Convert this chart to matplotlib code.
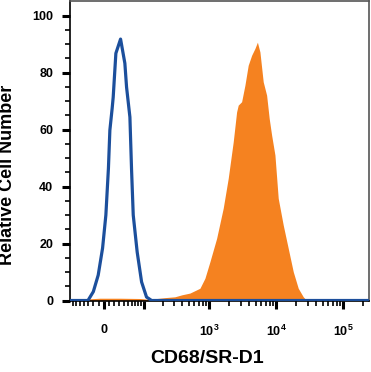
import numpy as np
import matplotlib.pyplot as plt
from matplotlib.ticker import FixedLocator, NullFormatter

plt.rcParams['font.family'] = ['Liberation Sans', 'DejaVu Sans']
plt.rcParams['font.weight'] = 'bold'
plt.rcParams['mathtext.fontset'] = 'custom'
plt.rcParams['mathtext.bf'] = 'Liberation Sans:bold'
plt.rcParams['mathtext.rm'] = 'Liberation Sans:bold'
plt.rcParams['mathtext.default'] = 'bf'

# isotype control (blue outline), intensity vs relative cell number
ctrl_x = [-78, -31, -20, -10.6, -2.4, 3.7, 8.5, 11.2, 15.6, 17.6, 22.9, 32.7,
          42.4, 46.5, 55, 59.5, 64.2, 76.2, 91.3, 110.7, 134, 244000]
ctrl_y = [0, 0, 3.1, 8.9, 18.4, 30, 46.5, 59.8, 67.5, 71.4, 86.8, 91.8,
          83.3, 74.9, 64.4, 45.8, 30, 17, 6.5, 1.2, 0, 0]

# CD68/SR-D1 stained (orange filled)
stain_x = [-37.8, -27, -7.4, 31.2, 85.6, 125, 163, 216, 307, 393, 517, 731,
           868, 1031, 1298, 1629, 1935, 2298, 2581, 2728, 3067, 3435, 3845,
           4325, 4844, 5276, 5751, 6442, 7241, 7916, 8597, 9634, 10789,
           12814, 15223, 18085, 21460, 25488, 28620]
stain_y = [0, 0.6, 0.8, 0.8, 0.7, 0.4, 0.7, 1.0, 1.3, 2.0, 2.6, 4.3,
           7.8, 13.6, 21.8, 32.4, 42.9, 55.7, 66.2, 68.6, 69.8, 75.6, 82.6,
           86.1, 88.5, 90.7, 87.3, 76.8, 72.1, 63.9, 58.1, 51.1, 35.9,
           26.5, 18.3, 10.1, 4.3, 1.3, 0]

x_major = [0, 100, 1000, 10000, 100000]
x_major_labels = ['0', '', '$10^{3}$', '$10^{4}$', '$10^{5}$']
y_major = [0, 20, 40, 60, 80, 100]

W = 54.0
LN10 = np.log(10)


def fwd(v):
    return np.arcsinh(np.asarray(v, dtype=float) / W) / LN10


def inv(v):
    return W * np.sinh(np.asarray(v, dtype=float) * LN10)


fig = plt.figure(figsize=(3.71, 3.72), dpi=100)
ax = fig.add_axes([0.1887, 0.1922, 0.8059, 0.8038])
ax.set_xscale('function', functions=(fwd, inv))

ax.fill_between(stain_x, stain_y, 0, color='#f58220', lw=0, zorder=2)
ax.plot(ctrl_x, ctrl_y, color='#1c4f9c', lw=2.3, zorder=3,
        solid_joinstyle='round')

ax.set_xlim(-78, 244000)
ax.set_ylim(0, 105)

minor = [-v for v in range(10, 100, 10)] + list(range(10, 100, 10))
for dec in (100, 1000, 10000, 100000):
    minor += [dec * k for k in range(2, 10)]
ax.xaxis.set_major_locator(FixedLocator(x_major))
ax.xaxis.set_ticklabels(x_major_labels)
ax.xaxis.set_minor_locator(FixedLocator(minor))
ax.xaxis.set_minor_formatter(NullFormatter())

ax.yaxis.set_major_locator(FixedLocator(y_major))
ax.yaxis.set_minor_locator(FixedLocator(np.arange(5, 105, 5)))

ax.tick_params(which='major', direction='out', length=6, width=2.2,
               labelsize=9, color='black')
ax.tick_params(which='minor', direction='out', length=3.5, width=1.2,
               color='black')
ax.tick_params(axis='x', which='major', pad=11)
ax.tick_params(axis='y', which='major', pad=6)

for side in ('left', 'bottom'):
    ax.spines[side].set_linewidth(1.2)
    ax.spines[side].set_color('black')
for side in ('top', 'right'):
    ax.spines[side].set_linewidth(1.2)
    ax.spines[side].set_color('#555555')

ax.set_xlabel('CD68/SR-D1', fontsize=14, fontweight='bold')
ax.set_ylabel('Relative Cell Number', fontsize=13, fontweight='bold')
ax.xaxis.set_label_coords(0.458, -0.166)
ax.yaxis.set_label_coords(-0.18, 0.42)

fig.savefig('out.png', dpi=100)
